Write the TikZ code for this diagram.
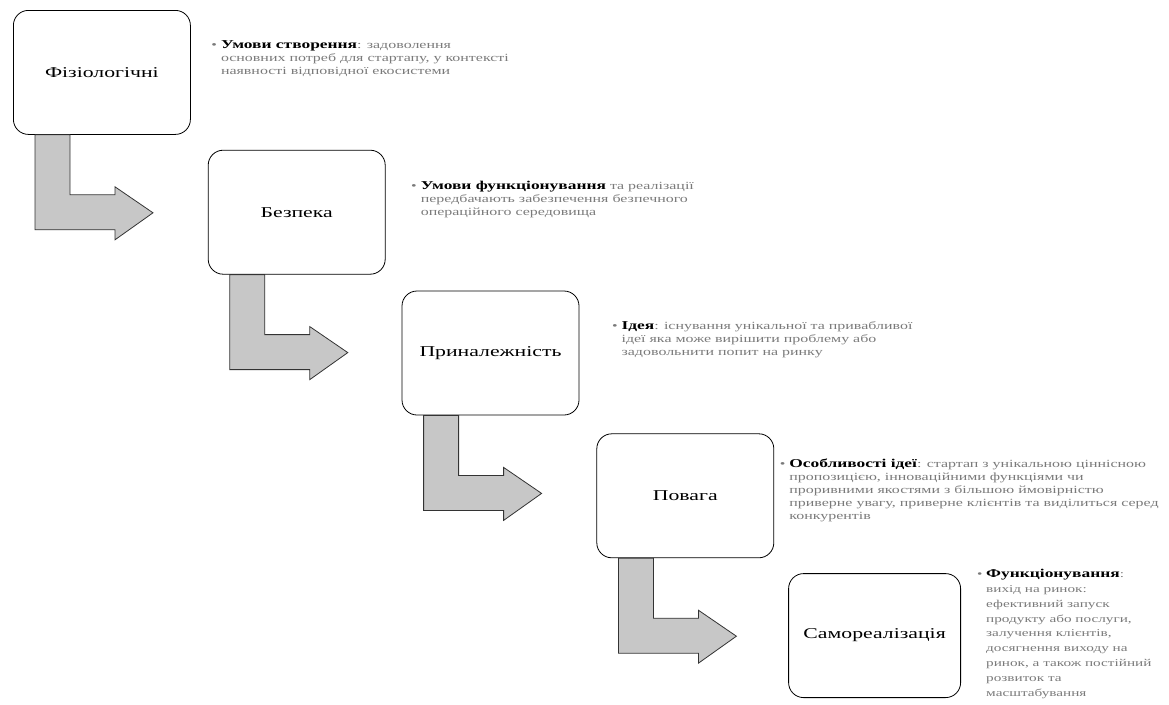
\documentclass[tikz,border=0pt]{standalone}
\usepackage{fontspec}
\setmainfont{Liberation Serif}
\newfontfamily\widefont[FakeStretch=1.45]{Liberation Serif}
\usetikzlibrary{positioning, calc}

\tikzset{
  stage/.style={draw, thick, rounded corners=15pt, minimum width=177pt, minimum height=124pt, font=\widefont\fontsize{15}{16}\selectfont},
  note/.style={anchor=north west, align=left, inner sep=0pt, text=black!52, font=\widefont\fontsize{11}{13}\selectfont},
  bent/.style={draw=black!80, fill=black!22, line width=0.8pt, line join=miter}
}
\newcommand{\hd}[1]{\llap{\textbullet\ }{\fontsize{12}{13}\selectfont\textbf{\color{black}#1}}}

\begin{document}
\begin{tikzpicture}[x=1pt, y=1pt, node distance=16pt]
        \useasboundingbox (0,0) rectangle (1169,-704);

        \node[stage, anchor=north west] (fiz) at (13,-10) {Фізіологічні};
        \node[stage, below right=15pt and 17pt of fiz] (bez) {Безпека};
        \node[stage, below right=16pt and 16pt of bez] (pryn) {Приналежність};
        \node[stage, below right=18pt and 17pt of pryn] (pov) {Повага};
        \node[stage, minimum width=172pt, below right=15pt and 14pt of pov] (samo) {Самореалізація};

        % bent arrows
        \foreach \b in {fiz, bez, pryn, pov}
            \draw[bent] ($(\b.south west)+(22,0)$) -- ++(35,0) -- ++(0,-60) -- ++(45,0) -- ++(0,8)
                -- ++(38,-26) -- ++(-38,-27) -- ++(0,10) -- ++(-80,0) -- cycle;

        \node[note] (t1) at ($(fiz.north east)+(30,-30)$) {\hd{Умови створення}: задоволення\\
            основних потреб для стартапу, у контексті\\
            наявності відповідної екосистеми};
        \node[note] (t2) at ($(bez.north east)+(35,-31)$) {\hd{Умови функціонування} та реалізації\\
            передбачають забезпечення безпечного\\
            операційного середовища};
        \node[note] (t3) at ($(pryn.north east)+(42,-31)$) {\hd{Ідея}: існування унікальної та привабливої\\
            ідеї яка може вирішити проблему або\\
            задовольнити попит на ринку};
        \node[note] (t4) at ($(pov.north east)+(15,-25)$) {\hd{Особливості ідеї}: стартап з унікальною ціннісною\\
            пропозицією, інноваційними функціями чи\\
            проривними якостями з більшою ймовірністю\\
            приверне увагу, приверне клієнтів та виділиться серед\\
            конкурентів};
        \node[note, font=\widefont\fontsize{10.5}{14.8}\selectfont] (t5) at ($(samo.north east)+(25,4)$) {\hd{Функціонування}:\\
            вихід на ринок:\\
            ефективний запуск\\
            продукту або послуги,\\
            залучення клієнтів,\\
            досягнення виходу на\\
            ринок, а також постійний\\
            розвиток та\\
            масштабування};
    \end{tikzpicture}
\end{document}
